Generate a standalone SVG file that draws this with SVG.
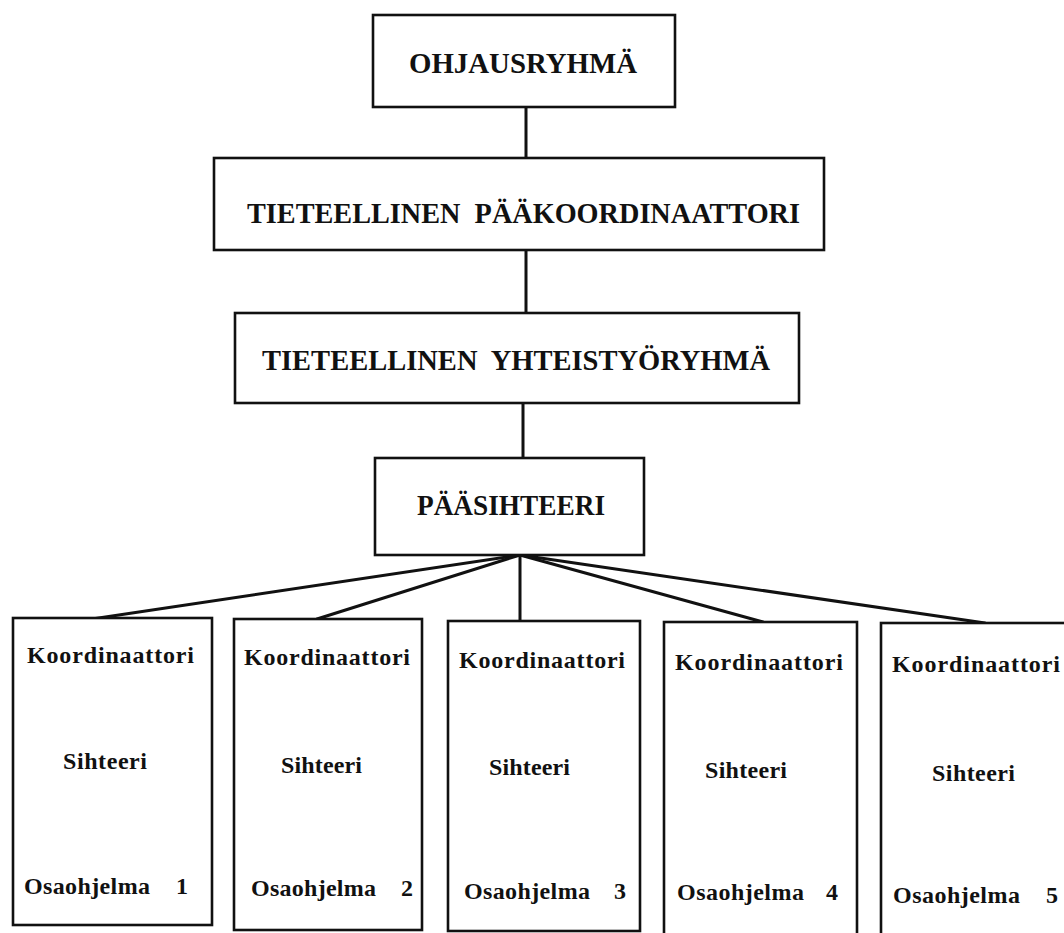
<svg xmlns="http://www.w3.org/2000/svg" width="1064" height="933" viewBox="0 0 1064 933">
<style>
.box{fill:#fff;stroke:#111;stroke-width:2.6}
.con{stroke:#111;stroke-width:3;fill:none;stroke-linecap:round}
.big{font-family:"Liberation Serif","Times New Roman",serif;font-weight:bold;font-size:30px;fill:#111}
.sm{font-family:"Liberation Serif","Times New Roman",serif;font-weight:bold;font-size:24px;fill:#111}
</style>
<rect width="1064" height="933" fill="#fff"/>
<g id="connectors">
<line class="con" x1="526" y1="107" x2="526" y2="158"/>
<line class="con" x1="526" y1="250" x2="526" y2="313"/>
<line class="con" x1="523" y1="403" x2="523" y2="458"/>
<line class="con" x1="520" y1="555" x2="92" y2="619"/>
<line class="con" x1="520" y1="555" x2="317" y2="619"/>
<line class="con" x1="520" y1="555" x2="520" y2="621"/>
<line class="con" x1="520" y1="555" x2="763" y2="622"/>
<line class="con" x1="520" y1="555" x2="985" y2="623"/>
</g>
<g id="ohjausryhma">
<rect class="box" x="373" y="15" width="302" height="92"/>
<text class="big" x="409" y="73" textLength="228" lengthAdjust="spacingAndGlyphs">OHJAUSRYHMÄ</text>
</g>
<g id="paakoordinaattori">
<rect class="box" x="214" y="158" width="610" height="92"/>
<text class="big" x="247" y="223" textLength="553" lengthAdjust="spacingAndGlyphs" xml:space="preserve">TIETEELLINEN  PÄÄKOORDINAATTORI</text>
</g>
<g id="yhteistyoryhma">
<rect class="box" x="235" y="313" width="564" height="90"/>
<text class="big" x="262" y="370" textLength="508" lengthAdjust="spacingAndGlyphs" xml:space="preserve">TIETEELLINEN  YHTEISTYÖRYHMÄ</text>
</g>
<g id="paasihteeri">
<rect class="box" x="375" y="458" width="269" height="97"/>
<text class="big" x="417" y="515" textLength="188" lengthAdjust="spacingAndGlyphs">PÄÄSIHTEERI</text>
</g>
<g id="osa1">
<rect class="box" x="13" y="618" width="199" height="307"/>
<text class="sm" x="27" y="663" textLength="167">Koordinaattori</text>
<text class="sm" x="63" y="769" textLength="84">Sihteeri</text>
<text class="sm" y="894"><tspan x="24" textLength="126">Osaohjelma</tspan><tspan x="176">1</tspan></text>
</g>
<g id="osa2">
<rect class="box" x="234" y="619" width="188" height="311"/>
<text class="sm" x="244" y="665" textLength="166">Koordinaattori</text>
<text class="sm" x="281" y="773" textLength="81">Sihteeri</text>
<text class="sm" y="896"><tspan x="251" textLength="125">Osaohjelma</tspan><tspan x="401">2</tspan></text>
</g>
<g id="osa3">
<rect class="box" x="448" y="621" width="192" height="310"/>
<text class="sm" x="459" y="668" textLength="166">Koordinaattori</text>
<text class="sm" x="489" y="775" textLength="81">Sihteeri</text>
<text class="sm" y="899"><tspan x="464" textLength="126">Osaohjelma</tspan><tspan x="614">3</tspan></text>
</g>
<g id="osa4">
<rect class="box" x="664" y="622" width="193" height="320"/>
<text class="sm" x="675" y="670" textLength="168">Koordinaattori</text>
<text class="sm" x="705" y="778" textLength="82">Sihteeri</text>
<text class="sm" y="900"><tspan x="677" textLength="127">Osaohjelma</tspan><tspan x="826">4</tspan></text>
</g>
<g id="osa5">
<rect class="box" x="881" y="623" width="190" height="320"/>
<text class="sm" x="892" y="672" textLength="168">Koordinaattori</text>
<text class="sm" x="932" y="781" textLength="83">Sihteeri</text>
<text class="sm" y="903"><tspan x="893" textLength="127">Osaohjelma</tspan><tspan x="1046">5</tspan></text>
</g>
</svg>
